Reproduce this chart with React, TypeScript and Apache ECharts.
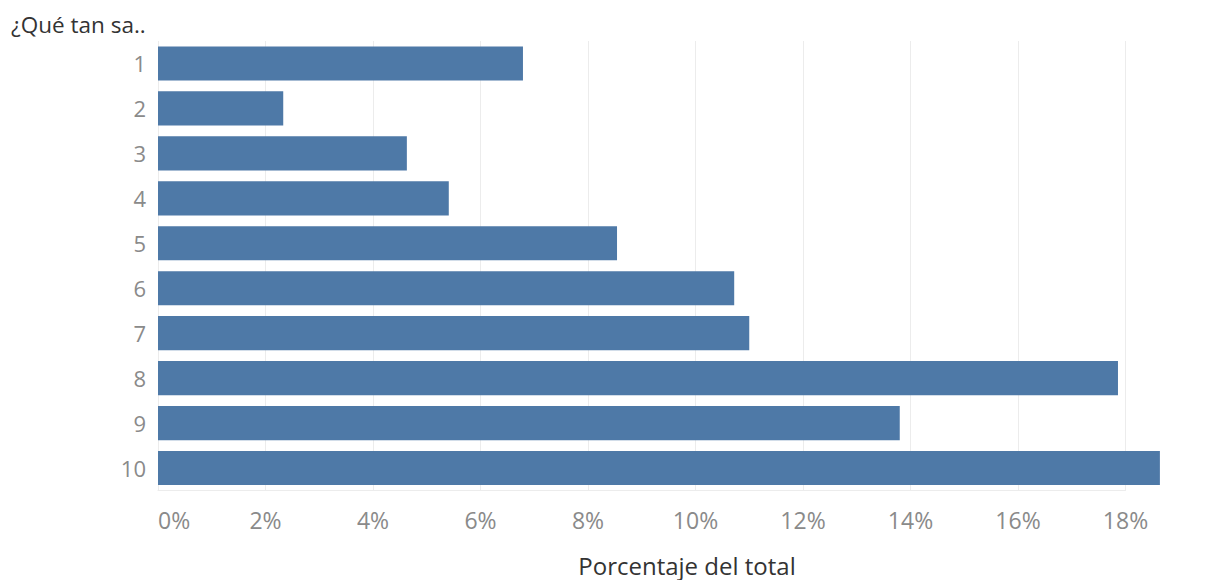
import React, { useEffect, useRef } from "react";
import * as echarts from "echarts";

const categories: string[] = ["1", "2", "3", "4", "5", "6", "7", "8", "9", "10"];
const percentValues: number[] = [6.79, 2.33, 4.63, 5.41, 8.54, 10.72, 11.0, 17.86, 13.8, 18.64];
const xTicks: number[] = [0, 2, 4, 6, 8, 10, 12, 14, 16, 18];
const rowTitle = "¿Qué tan sa..";
const xTitle = "Porcentaje del total";

const FONT = "'Open Sans', 'Noto Sans', sans-serif";

export default function App() {
  const ref = useRef<HTMLDivElement>(null);
  useEffect(() => {
    if (!ref.current) return;
    const chart = echarts.init(ref.current, undefined, { renderer: "svg" });
    chart.setOption({
      animation: false,
      backgroundColor: "#ffffff",
      grid: { left: 158, top: 41, width: 967.5, height: 449.5, containLabel: false },
      title: {
        text: rowTitle,
        left: 6,
        top: 8,
        textStyle: { fontFamily: FONT, fontSize: 22.5, fontWeight: "normal", color: "#333333" },
      },
      graphic: [
        {
          type: "text",
          x: 687,
          y: 565,
          style: {
            text: xTitle,
            fontFamily: FONT,
            fontSize: 24,
            fill: "#333333",
            align: "center",
            verticalAlign: "middle",
          },
        },
      ],
      xAxis: {
        type: "value",
        min: xTicks[0],
        max: xTicks[xTicks.length - 1],
        interval: 2,
        axisLine: { show: true, lineStyle: { color: "#ececec" } },
        axisTick: { show: false },
        splitLine: { show: true, lineStyle: { color: "#ececec", width: 1 } },
        axisLabel: {
          fontFamily: FONT,
          fontSize: 23,
          color: "#8a8a8a",
          margin: 18,
          alignMinLabel: "left",
          formatter: (v: number) => `${v}%`,
        },
      },
      yAxis: {
        type: "category",
        data: categories,
        inverse: true,
        axisLine: { show: false },
        axisTick: { show: false },
        splitLine: { show: false },
        axisLabel: { fontFamily: FONT, fontSize: 22, color: "#8a8a8a", margin: 12 },
      },
      series: [
        {
          type: "bar",
          data: percentValues,
          barWidth: "76%",
          clip: false,
          itemStyle: { color: "#4e79a7" },
        },
      ],
    });
    return () => chart.dispose();
  }, []);
  return (
    <div
      ref={ref}
      style={{ position: "fixed", left: 0, top: 0, width: 1217, height: 580 }}
    />
  );
}
